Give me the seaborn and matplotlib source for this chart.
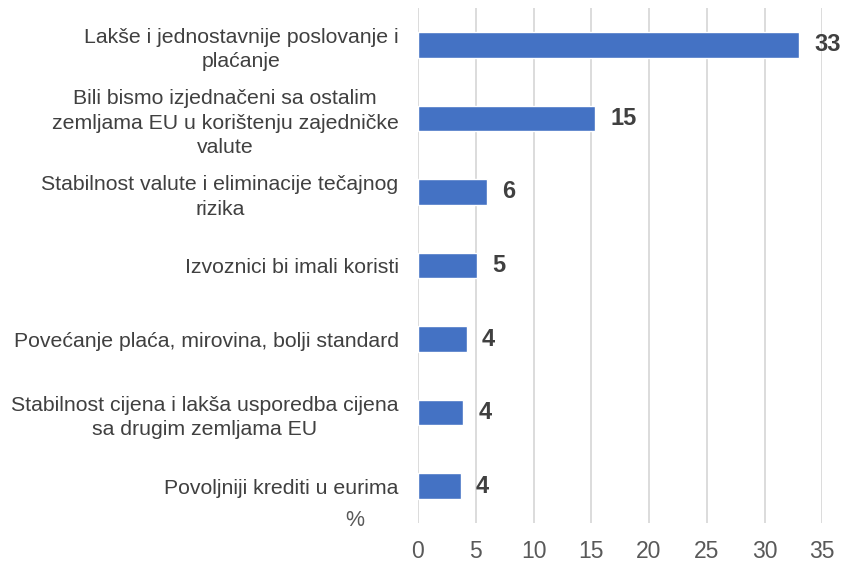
import matplotlib
matplotlib.use("Agg")
import matplotlib.pyplot as plt
import seaborn as sns
import pandas as pd

categories = [
    "Lakše i jednostavnije poslovanje i\nplaćanje",
    "Bili bismo izjednačeni sa ostalim\nzemljama EU u korištenju zajedničke\nvalute",
    "Stabilnost valute i eliminacije tečajnog\nrizika",
    "Izvoznici bi imali koristi",
    "Povećanje plaća, mirovina, bolji standard",
    "Stabilnost cijena i lakša usporedba cijena\nsa drugim zemljama EU",
    "Povoljniji krediti u eurima",
]
values = [33.0, 15.3, 6.0, 5.1, 4.2, 3.9, 3.7]
x_ticks = [0, 5, 10, 15, 20, 25, 30, 35]
unit_label = "%"

df = pd.DataFrame({"cat": categories, "val": values})

sns.set_theme(style="white")
plt.rcParams["font.family"] = ["Liberation Sans", "DejaVu Sans"]

fig = plt.figure(figsize=(8.42, 5.63), dpi=100)
ax = fig.add_axes([418 / 842, 1 - 523 / 563, (822.3 - 418) / 842, (523 - 8) / 563])

sns.barplot(data=df, y="cat", x="val", orient="h", color="#4472C4",
            width=0.346, saturation=1, ax=ax)

ax.set_xlim(0, 35)
ax.set_xticks(x_ticks)
ax.set_xticklabels([str(t) for t in x_ticks])
ax.grid(axis="x", color="#d9d9d9", linewidth=1.3)
ax.set_axisbelow(True)
for s in ax.spines.values():
    s.set_visible(False)
ax.set_xlabel("")
ax.set_ylabel("")
ax.tick_params(axis="x", length=0, pad=12, labelsize=16.5, labelcolor="#595959")
ax.tick_params(axis="y", length=0, pad=14, labelsize=15.3, labelcolor="#404040")
for lbl in ax.get_yticklabels():
    lbl.set_multialignment("center")
    lbl.set_linespacing(1.38)

ax.bar_label(ax.containers[0], labels=[f"{v:.0f}" for v in values], padding=11,
             fontsize=17, fontweight="bold", color="#404040")

fig.text(355 / 842, 1 - 521 / 563, unit_label, ha="center", va="center",
         fontsize=15.5, color="#595959")

fig.savefig("out.png", dpi=100)
